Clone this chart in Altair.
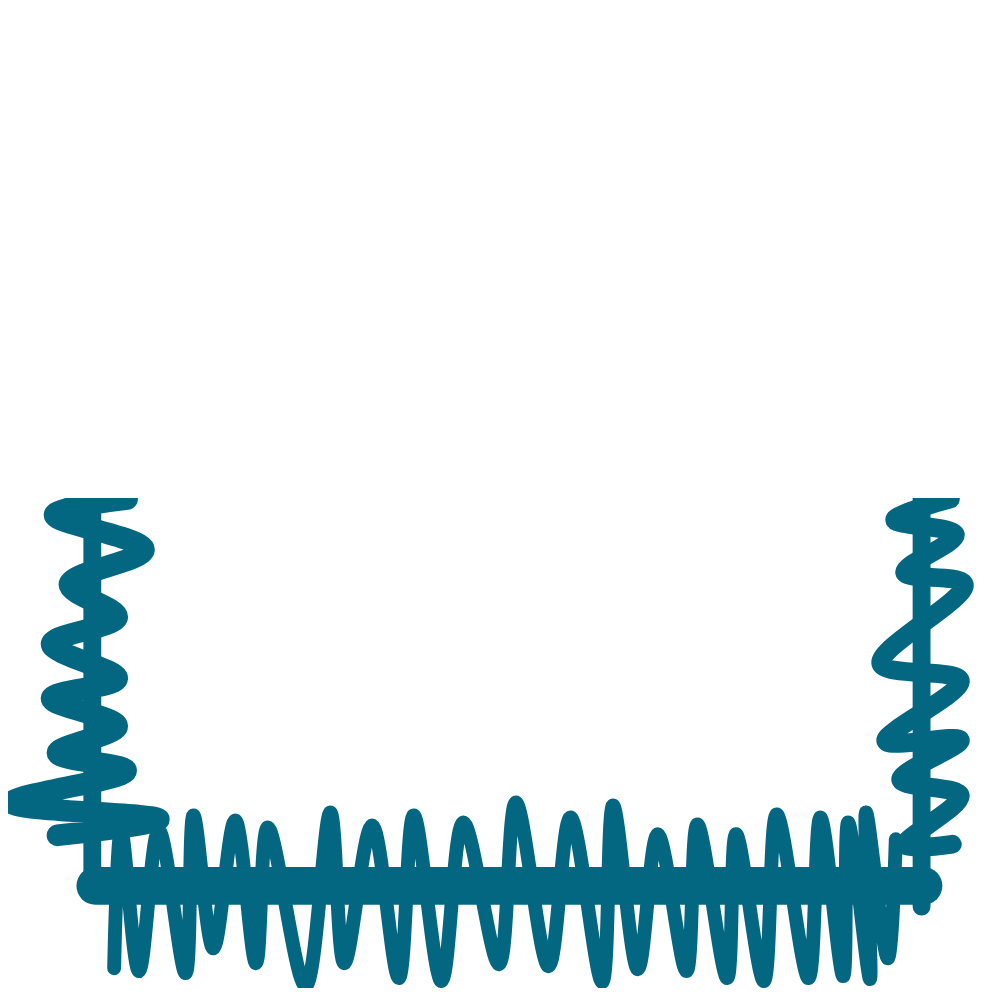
import altair as alt
import pandas as pd

ink = '#036782'

# left coil, drawn around the left post (pixel-like units, y grows downward)
left_x = [128, 55, 145, 70, 118, 52, 118, 52, 118, 58, 127, 12, 160, 58]
left_y = [499, 515, 550, 585, 618, 645, 680, 700, 728, 755, 773, 805, 822, 838]

# right coil
right_x = [958, 902, 963, 912, 972, 888, 968, 893, 968, 908, 968, 912, 960]
right_y = [499, 520, 535, 573, 585, 665, 682, 743, 742, 782, 798, 848, 847]

# bottom spring
bottom_x = [115, 122, 140, 160, 187, 195, 215, 237, 258, 270, 308, 333, 347, 375,
            402, 417, 445, 467, 503, 520, 553, 575, 607, 618, 643, 663, 692, 703,
            733, 742, 770, 783, 815, 827, 850, 855, 877, 873, 895, 903]
bottom_y = [972, 833, 975, 833, 977, 818, 952, 823, 967, 830, 990, 815, 967, 828,
            982, 818, 985, 825, 968, 805, 970, 820, 986, 808, 973, 837, 975, 827,
            982, 837, 985, 817, 982, 820, 980, 825, 983, 815, 962, 842]

# frame: two posts and the base
post_left_x = [93, 93]
post_left_y = [498, 890]
post_right_x = [929, 929]
post_right_y = [498, 910]
base_x = [96, 931]
base_y = [889, 889]


def stroke(xs, ys, width, interp='catmull-rom'):
    df = pd.DataFrame({'x': xs, 'y': ys, 'i': range(len(xs))})
    return alt.Chart(df).mark_line(
        color=ink, strokeWidth=width, strokeCap='round', strokeJoin='round',
        interpolate=interp, clip=True
    ).encode(
        x=alt.X('x:Q', scale=alt.Scale(domain=[8, 1000], nice=False, zero=False), axis=None),
        y=alt.Y('y:Q', scale=alt.Scale(domain=[498, 992], nice=False, zero=False, reverse=True), axis=None),
        order='i:Q'
    )


chart = alt.layer(
    stroke(bottom_x, bottom_y, 14),
    stroke(left_x, left_y, 22),
    stroke(right_x, right_y, 19),
    stroke(post_left_x, post_left_y, 18, 'linear'),
    stroke(post_right_x, post_right_y, 18, 'linear'),
    stroke(base_x, base_y, 38, 'linear'),
).properties(
    width=992,
    height=494,
    padding={'left': 0, 'top': 490, 'right': 0, 'bottom': 0},
    autosize='none'
).configure_view(stroke=None)

chart.save("out.html", embed_options={"renderer": "svg", "actions": False})
